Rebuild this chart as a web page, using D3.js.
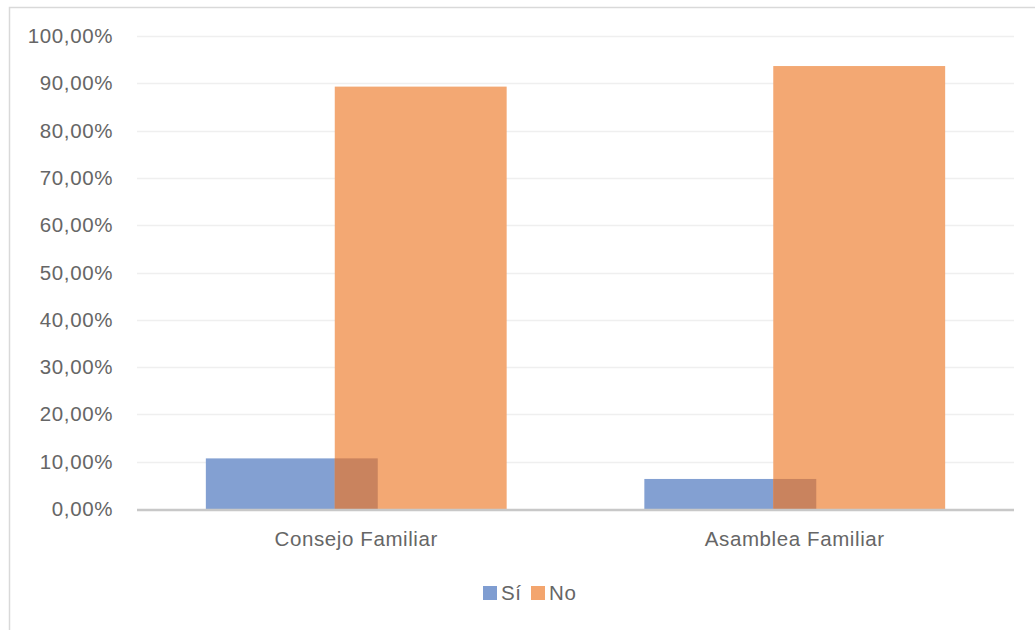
<!DOCTYPE html>
<html>
<head>
<meta charset="utf-8">
<script src="https://cdn.jsdelivr.net/npm/d3@7"></script>
<style>
  html, body { margin: 0; padding: 0; background: #fff; }
  svg { display: block; font-family: "Liberation Sans", "DejaVu Sans", sans-serif; }
</style>
</head>
<body>
<svg id="chart" width="1035" height="630"></svg>
<script>
const categories = ["Consejo Familiar", "Asamblea Familiar"];
const seriesNames = ["Sí", "No"];
const siValues = [0.107, 0.0635];
const noValues = [0.893, 0.9365];
const yTicks = [0, 0.1, 0.2, 0.3, 0.4, 0.5, 0.6, 0.7, 0.8, 0.9, 1.0];
const colors = { "Sí": "#7f9dd1", "No": "#f3a56e" };
const overlapColor = "#c9835e";

const svg = d3.select("#chart");
const W = 1035, H = 630;
const plot = { left: 137, right: 1014, top: 36, bottom: 509 };
const textColor = "#666666";
const fontSize = 20.5;
const spacing = 0.6;

// chart frame
svg.append("rect")
  .attr("x", 9.5).attr("y", 7.5)
  .attr("width", W + 10).attr("height", H + 10)
  .attr("fill", "#fff").attr("stroke", "#d9d9d9").attr("stroke-width", 1.5);

const x = d3.scaleBand().domain(categories).range([plot.left, plot.right]).padding(0);
const y = d3.scaleLinear().domain([0, 1]).range([plot.bottom, plot.top]);

const fmt = v => d3.format(".2f")(v * 100).replace(".", ",") + "%";

// gridlines
svg.append("g").selectAll("line").data(yTicks.filter(t => t > 0)).join("line")
  .attr("x1", plot.left).attr("x2", plot.right)
  .attr("y1", d => Math.round(y(d)) + 0.5).attr("y2", d => Math.round(y(d)) + 0.5)
  .attr("stroke", "#efefef").attr("stroke-width", 1.5);

// y axis labels
const yAxis = d3.axisLeft(y).tickValues(yTicks).tickFormat(fmt).tickSize(0).tickPadding(0);
const yg = svg.append("g").attr("transform", `translate(113,0)`).call(yAxis);
yg.select(".domain").remove();
yg.selectAll("text").attr("fill", textColor).attr("font-size", fontSize)
  .attr("letter-spacing", spacing).attr("font-family", null);

// bars: width and offsets within each category band
const bw = x.bandwidth() * 0.392;
const shift = bw * 0.75;
const center = c => x(c) + x.bandwidth() / 2;
const siX = c => center(c) - (bw + shift) / 2;
const noX = c => siX(c) + shift;

const rows = categories.map((c, i) => ({ c, si: siValues[i], no: noValues[i] }));

svg.append("g").selectAll("rect").data(rows).join("rect")
  .attr("x", d => siX(d.c)).attr("width", bw)
  .attr("y", d => y(d.si)).attr("height", d => y(0) - y(d.si))
  .attr("fill", colors["Sí"]).attr("opacity", 0.97);

svg.append("g").selectAll("rect").data(rows).join("rect")
  .attr("x", d => noX(d.c)).attr("width", bw)
  .attr("y", d => y(d.no)).attr("height", d => y(0) - y(d.no))
  .attr("fill", colors["No"]).attr("opacity", 0.97);

// shaded region where the two bars overlap
svg.append("g").selectAll("rect").data(rows).join("rect")
  .attr("x", d => noX(d.c)).attr("width", d => siX(d.c) + bw - noX(d.c))
  .attr("y", d => y(Math.min(d.si, d.no))).attr("height", d => y(0) - y(Math.min(d.si, d.no)))
  .attr("fill", overlapColor);

// baseline
svg.append("line")
  .attr("x1", plot.left).attr("x2", plot.right)
  .attr("y1", plot.bottom + 1).attr("y2", plot.bottom + 1)
  .attr("stroke", "#c8c8c8").attr("stroke-width", 2.5);

// category labels
const xAxis = d3.axisBottom(x).tickSize(0).tickPadding(0);
const xg = svg.append("g").attr("transform", `translate(0,${plot.bottom + 22})`).call(xAxis);
xg.select(".domain").remove();
xg.selectAll("text").attr("fill", textColor).attr("font-size", fontSize)
  .attr("letter-spacing", spacing).attr("font-family", null).attr("dy", "0.71em");

// legend
const legendItems = [{ name: "Sí", x: 483 }, { name: "No", x: 531 }];
const lg = svg.append("g");
lg.selectAll("rect").data(legendItems).join("rect")
  .attr("x", d => d.x).attr("y", 586).attr("width", 14).attr("height", 14)
  .attr("fill", d => colors[d.name]);
lg.selectAll("text").data(legendItems).join("text")
  .attr("x", d => d.x + 18).attr("y", 593).attr("dy", "0.35em")
  .attr("fill", textColor).attr("font-size", fontSize).attr("letter-spacing", spacing)
  .text(d => d.name);
</script>
</body>
</html>
